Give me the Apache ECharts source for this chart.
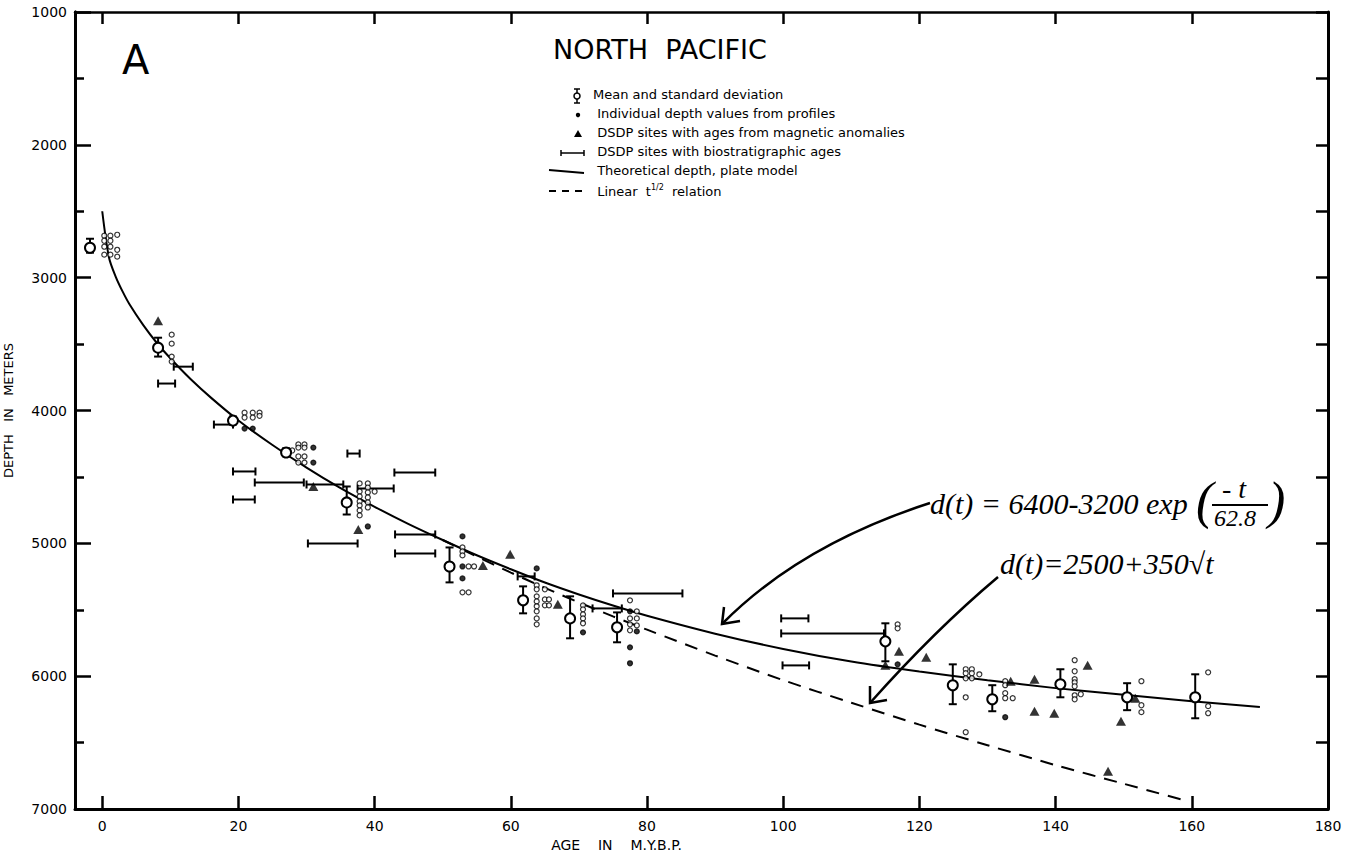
<!DOCTYPE html>
<html>
<head>
<meta charset="utf-8">
<script src="https://cdn.jsdelivr.net/npm/echarts@6/dist/echarts.min.js"></script>
<style>
html,body{margin:0;padding:0;background:#fff;}
#chart{width:1345px;height:859px;}
</style>
</head>
<body>
<div id="chart"></div>
<script>
// ---------------- DATA ----------------
const ageTicks = [0, 20, 40, 60, 80, 100, 120, 140, 160, 180];
const ageInnerTicks = [0, 20, 40, 60, 80, 100, 120, 140, 160];
const depthMajorTicks = [1000, 2000, 3000, 4000, 5000, 6000, 7000];
const depthMinorTicks = [1500, 2500, 3500, 4500, 5500, 6500];

// Mean and standard deviation
const meanAge   = [-1.8, 8.2, 19.2, 27.0, 35.9, 51.0, 61.8, 68.7, 75.6, 115.0, 124.9, 130.7, 140.7, 150.5, 160.5];
const meanDepth = [2775, 3527, 4076, 4316, 4692, 5174, 5429, 5565, 5632, 5738, 6068, 6174, 6061, 6159, 6159];
const meanLow   = [2707, 3452, 4045, 4285, 4572, 5031, 5324, 5399, 5520, 5602, 5911, 6068, 5948, 6053, 5986];
const meanHigh  = [2812, 3594, 4105, 4345, 4783, 5294, 5527, 5715, 5745, 5888, 6211, 6264, 6159, 6256, 6317];

// Individual depth values from profiles (open)
const indivAge = [
  0.3, 0.3, 0.3, 0.3, 1.2, 1.2, 1.2, 1.2, 2.2, 2.2, 2.2,
  10.2, 10.2, 10.2, 10.2,
  20.9, 20.9, 22.1, 22.1, 23.1, 23.1,
  27.9, 28.8, 28.8, 28.8, 28.8, 29.7, 29.7, 29.7, 29.7,
  37.8, 37.8, 37.8, 37.8, 37.8, 37.8, 37.8, 39.0, 39.0, 39.0, 39.0, 39.0, 39.0, 40.0,
  52.9, 52.9, 52.9, 52.9, 53.8, 53.8, 54.6,
  63.8, 63.8, 63.8, 63.8, 63.8, 63.8, 63.8, 63.8, 65.0, 65.0, 65.0, 65.6, 65.6,
  70.6, 70.6, 70.6, 70.6, 70.6,
  77.5, 77.5, 77.5, 77.5, 78.5, 78.5, 78.5,
  116.8, 116.8,
  126.8, 126.8, 126.8, 126.8, 126.8, 127.7, 127.7, 127.7, 128.8,
  132.6, 132.6, 132.6, 132.6, 133.7,
  142.8, 142.8, 142.8, 142.8, 142.8, 142.8, 142.8, 143.7,
  152.6, 152.6, 152.6,
  162.4, 162.4, 162.4
];
const indivDepth = [
  2684, 2722, 2767, 2827, 2684, 2722, 2767, 2827, 2677, 2790, 2842,
  3429, 3497, 3594, 3632,
  4016, 4053, 4016, 4053, 4016, 4040,
  4301, 4256, 4279, 4346, 4392, 4256, 4279, 4346, 4392,
  4549, 4610, 4647, 4685, 4715, 4752, 4790, 4549, 4580, 4617, 4655, 4692, 4730, 4610,
  5031, 5061, 5091, 5369, 5174, 5369, 5174,
  5316, 5346, 5399, 5437, 5474, 5512, 5565, 5610, 5346, 5422, 5467, 5422, 5467,
  5467, 5497, 5535, 5565, 5602,
  5429, 5565, 5610, 5655, 5512, 5565, 5618,
  5610, 5640,
  5948, 5978, 6016, 6159, 6422, 5948, 5978, 6016, 5986,
  6038, 6068, 6128, 6166, 6166,
  5880, 5963, 6023, 6046, 6076, 6144, 6174, 6136,
  6038, 6219, 6271,
  5971, 6226, 6279
];
// Individual depth values drawn as solid dots
const dotAge   = [20.9, 22.1, 31.0, 31.0, 39.0, 52.9, 52.9, 52.9, 63.8, 70.6, 77.5, 77.5, 77.5, 78.5, 116.8, 132.6];
const dotDepth = [4136, 4136, 4279, 4392, 4873, 4948, 5174, 5264, 5189, 5670, 5512, 5783, 5903, 5663, 5911, 6309];

// DSDP sites with ages from magnetic anomalies
const magAge   = [8.2, 31.0, 37.6, 55.9, 59.9, 66.9, 115.0, 117.0, 121.0, 133.4, 136.9, 136.9, 139.8, 144.7, 147.7, 149.6, 151.7];
const magDepth = [3324, 4572, 4895, 5166, 5083, 5459, 5918, 5813, 5858, 6038, 6023, 6264, 6279, 5918, 6715, 6339, 6166];

// DSDP sites with biostratigraphic ages (age range, depth)
const bioAgeFrom = [10.5, 8.2, 16.4, 19.2, 22.4, 19.2, 30.0, 36.0, 37.5, 42.9, 30.2, 43.0, 43.0, 61.0, 72.0, 75.0, 99.7, 99.7, 99.9];
const bioAgeTo   = [13.3, 10.7, 19.2, 22.5, 29.6, 22.4, 35.4, 37.8, 42.8, 48.9, 37.5, 48.9, 48.9, 63.5, 76.3, 85.2, 103.7, 114.8, 103.8];
const bioDepth   = [3670, 3797, 4106, 4459, 4542, 4670, 4557, 4324, 4587, 4467, 5001, 4933, 5076, 5249, 5490, 5377, 5565, 5678, 5919];

// Theoretical depth, plate model
const plateAge   = [0, 1, 2, 3, 4, 6, 8, 10, 13, 16, 20, 25, 30, 35, 40, 45, 50, 55, 60, 65, 70, 75, 80, 90, 100, 110, 120, 130, 140, 150, 160, 170];
const plateDepth = [2500, 2850, 2995, 3105, 3200, 3355, 3490, 3607, 3765, 3905, 4075, 4260, 4430, 4585, 4725, 4855, 4975, 5090, 5195, 5295, 5385, 5468, 5545, 5680, 5795, 5890, 5965, 6030, 6090, 6140, 6188, 6232];

// Linear t^1/2 relation
const sqrtAge   = [50, 55, 60, 65, 70, 75, 80, 90, 100, 110, 120, 130, 140, 150, 159];
const sqrtDepth = [4975, 5100, 5220, 5335, 5445, 5550, 5650, 5845, 6030, 6200, 6365, 6520, 6670, 6810, 6935];

// ---------------- CHART ----------------
const FONT = 'DejaVu Sans';
const BLACK = '#000';
const zip = (a, b) => a.map((v, i) => [v, b[i]]);

const indivData = zip(indivAge, indivDepth).map(v => ({ value: v }))
  .concat(zip(dotAge, dotDepth).map(v => ({ value: v, itemStyle: { color: BLACK } })));

const chart = echarts.init(document.getElementById('chart'), null, { renderer: 'svg' });

function legendRow(y, icon, text, rich) {
  return [].concat(icon, [{
    type: 'text', left: 593, top: y - 8,
    style: { text: text, fontFamily: FONT, fontSize: 13, fill: BLACK, rich: rich }
  }]);
}
const LX = 577;
const rows = [96, 115, 134, 153, 172, 191];
const legendEls = [].concat(
  legendRow(rows[0], [
    { type: 'line', shape: { x1: LX, y1: rows[0] - 7, x2: LX, y2: rows[0] + 7 }, style: { stroke: BLACK, lineWidth: 1.5 } },
    { type: 'line', shape: { x1: LX - 3, y1: rows[0] - 7, x2: LX + 3, y2: rows[0] - 7 }, style: { stroke: BLACK, lineWidth: 1.5 } },
    { type: 'line', shape: { x1: LX - 3, y1: rows[0] + 7, x2: LX + 3, y2: rows[0] + 7 }, style: { stroke: BLACK, lineWidth: 1.5 } },
    { type: 'circle', shape: { cx: LX, cy: rows[0], r: 3 }, style: { fill: '#fff', stroke: BLACK, lineWidth: 1.5 } }
  ], 'Mean and standard deviation'),
  legendRow(rows[1], [
    { type: 'circle', shape: { cx: LX + 1, cy: rows[1], r: 2.2 }, style: { fill: BLACK } }
  ], ' Individual depth values from profiles'),
  legendRow(rows[2], [
    { type: 'polygon', shape: { points: [[LX + 1, rows[2] - 4], [LX - 3, rows[2] + 3], [LX + 5, rows[2] + 3]] }, style: { fill: BLACK } }
  ], ' DSDP sites with ages from magnetic anomalies'),
  legendRow(rows[3], [
    { type: 'line', shape: { x1: 561, y1: rows[3], x2: 584, y2: rows[3] }, style: { stroke: BLACK, lineWidth: 1.5 } },
    { type: 'line', shape: { x1: 561, y1: rows[3] - 3, x2: 561, y2: rows[3] + 3 }, style: { stroke: BLACK, lineWidth: 1.5 } },
    { type: 'line', shape: { x1: 584, y1: rows[3] - 3, x2: 584, y2: rows[3] + 3 }, style: { stroke: BLACK, lineWidth: 1.5 } }
  ], ' DSDP sites with biostratigraphic ages'),
  legendRow(rows[4], [
    { type: 'line', shape: { x1: 549, y1: rows[4] - 2, x2: 584, y2: rows[4] + 1 }, style: { stroke: BLACK, lineWidth: 2 } }
  ], ' Theoretical depth, plate model'),
  legendRow(rows[5], [
    { type: 'line', shape: { x1: 549, y1: rows[5], x2: 584, y2: rows[5] }, style: { stroke: BLACK, lineWidth: 2, lineDash: [7, 6] } }
  ], ' Linear  t{s|1/2}  relation', { s: { fontSize: 8, verticalAlign: 'top', padding: [0, 0, 8, 0], fontFamily: FONT } })
);

const serifIt = { fontFamily: 'Liberation Serif', fontStyle: 'italic', fill: BLACK };

const annotations = [
  { type: 'text', left: 122, top: 40, style: { text: 'A', fontFamily: FONT, fontSize: 40, fill: BLACK } },
  { type: 'text', left: 553, top: 36, style: { text: 'NORTH  PACIFIC', fontFamily: FONT, fontSize: 27, fill: BLACK } },
  // plate model formula
  { type: 'text', left: 930, top: 488, style: Object.assign({ text: 'd(t) = 6400-3200 exp', fontSize: 30 }, serifIt) },
  { type: 'text', left: 1196, top: 474, style: Object.assign({ text: '(', fontSize: 52 }, serifIt) },
  { type: 'text', left: 1222, top: 474, style: Object.assign({ text: '- t', fontSize: 28 }, serifIt) },
  { type: 'line', shape: { x1: 1212, y1: 505, x2: 1268, y2: 505 }, style: { stroke: BLACK, lineWidth: 2 } },
  { type: 'text', left: 1214, top: 506, style: Object.assign({ text: '62.8', fontSize: 24 }, serifIt) },
  { type: 'text', left: 1268, top: 474, style: Object.assign({ text: ')', fontSize: 52 }, serifIt) },
  // sqrt formula
  { type: 'text', left: 1000, top: 548, style: Object.assign({ text: 'd(t)=2500+350\u221At', fontSize: 30 }, serifIt) },
  // arrows
  { type: 'bezierCurve', shape: { x1: 930, y1: 503, cpx1: 800, cpy1: 545, x2: 722, y2: 624 }, style: { stroke: BLACK, lineWidth: 2.5, fill: null } },
  { type: 'polyline', shape: { points: [[724, 607], [722, 624], [740, 621]] }, style: { stroke: BLACK, lineWidth: 2.5, fill: null } },
  { type: 'bezierCurve', shape: { x1: 998, y1: 577, cpx1: 935, cpy1: 630, x2: 870, y2: 703 }, style: { stroke: BLACK, lineWidth: 2.5, fill: null } },
  { type: 'polyline', shape: { points: [[870, 686], [870, 703], [887, 700]] }, style: { stroke: BLACK, lineWidth: 2.5, fill: null } }
];

const yBase = { type: 'value', inverse: true, min: 1000, max: 7000, splitLine: { show: false } };

const option = {
  backgroundColor: '#fff',
  animation: false,
  grid: { left: 75, right: 17, top: 12, bottom: 50, containLabel: false, outerBoundsMode: 'none' },
  xAxis: [{
    type: 'value', min: -4, max: 180, position: 'bottom',
    axisLine: { show: true, onZero: false, lineStyle: { color: BLACK, width: 3 } },
    axisTick: { show: true, inside: true, length: 13, customValues: ageInnerTicks, lineStyle: { color: BLACK, width: 2.5 } },
    axisLabel: { show: true, customValues: ageTicks, color: BLACK, fontSize: 14, fontFamily: FONT, margin: 10 },
    splitLine: { show: false },
    name: 'AGE    IN    M.Y.B.P.', nameLocation: 'middle', nameGap: 28,
    nameTextStyle: { color: BLACK, fontSize: 14, fontFamily: FONT, padding: [0, 170, 0, 0] }
  }, {
    type: 'value', min: -4, max: 180, position: 'top',
    axisLine: { show: true, onZero: false, lineStyle: { color: BLACK, width: 2.5 } },
    axisTick: { show: true, inside: true, length: 12, customValues: ageInnerTicks, lineStyle: { color: BLACK, width: 2.5 } },
    axisLabel: { show: false },
    splitLine: { show: false }
  }],
  yAxis: [Object.assign({}, yBase, {
    position: 'left',
    axisLine: { show: true, onZero: false, lineStyle: { color: BLACK, width: 3 } },
    axisTick: { show: true, inside: true, length: 16, customValues: depthMajorTicks, lineStyle: { color: BLACK, width: 2.5 } },
    axisLabel: { color: BLACK, fontSize: 14, fontFamily: FONT, margin: 8, customValues: depthMajorTicks, formatter: v => String(v) },
    name: 'DEPTH   IN   METERS', nameLocation: 'middle', nameGap: 60,
    nameTextStyle: { color: BLACK, fontSize: 13, fontFamily: FONT }
  }), Object.assign({}, yBase, {
    position: 'left', offset: 0,
    axisLine: { show: true, onZero: false, lineStyle: { color: BLACK, width: 3 } },
    axisTick: { show: true, inside: true, length: 9, customValues: depthMinorTicks, lineStyle: { color: BLACK, width: 2.5 } },
    axisLabel: { show: false }
  }), Object.assign({}, yBase, {
    position: 'right', interval: 500,
    axisLine: { show: true, onZero: false, lineStyle: { color: BLACK, width: 3 } },
    axisTick: { show: true, inside: true, length: 12, lineStyle: { color: BLACK, width: 2.5 } },
    axisLabel: { show: false }
  })],
  series: [
    {
      name: 'Theoretical depth, plate model', type: 'line', xAxisIndex: 0, yAxisIndex: 0,
      data: zip(plateAge, plateDepth), smooth: 0.3, symbol: 'none',
      lineStyle: { color: BLACK, width: 2 }, z: 2
    },
    {
      name: 'Linear t1/2 relation', type: 'line', xAxisIndex: 0, yAxisIndex: 0,
      data: zip(sqrtAge, sqrtDepth), smooth: 0.3, symbol: 'none',
      lineStyle: { color: BLACK, width: 2, type: [13, 9] }, z: 2
    },
    {
      name: 'DSDP sites with biostratigraphic ages', type: 'custom', xAxisIndex: 0, yAxisIndex: 0,
      data: bioDepth.map((d, i) => [bioAgeFrom[i], bioAgeTo[i], d]),
      encode: { x: [0, 1], y: 2 },
      renderItem: function (params, api) {
        const a = api.coord([api.value(0), api.value(2)]);
        const b = api.coord([api.value(1), api.value(2)]);
        const st = { stroke: BLACK, lineWidth: 2 };
        return { type: 'group', children: [
          { type: 'line', shape: { x1: a[0], y1: a[1], x2: b[0], y2: b[1] }, style: st },
          { type: 'line', shape: { x1: a[0], y1: a[1] - 4, x2: a[0], y2: a[1] + 4 }, style: st },
          { type: 'line', shape: { x1: b[0], y1: b[1] - 4, x2: b[0], y2: b[1] + 4 }, style: st }
        ] };
      },
      z: 3
    },
    {
      name: 'Individual depth values from profiles', type: 'scatter', xAxisIndex: 0, yAxisIndex: 0,
      data: indivData, symbol: 'circle', symbolSize: 5,
      itemStyle: { color: '#fff', borderColor: BLACK, borderWidth: 1.2 }, z: 4
    },
    {
      name: 'DSDP sites with ages from magnetic anomalies', type: 'scatter', xAxisIndex: 0, yAxisIndex: 0,
      data: zip(magAge, magDepth), symbol: 'triangle', symbolSize: [10, 9],
      itemStyle: { color: BLACK }, z: 4
    },
    {
      name: 'Mean and standard deviation', type: 'custom', xAxisIndex: 0, yAxisIndex: 0,
      data: meanAge.map((a, i) => [a, meanDepth[i], meanLow[i], meanHigh[i]]),
      encode: { x: 0, y: [1, 2, 3] },
      renderItem: function (params, api) {
        const c = api.coord([api.value(0), api.value(1)]);
        const lo = api.coord([api.value(0), api.value(2)]);
        const hi = api.coord([api.value(0), api.value(3)]);
        const st = { stroke: BLACK, lineWidth: 2 };
        return { type: 'group', children: [
          { type: 'line', shape: { x1: c[0], y1: lo[1], x2: c[0], y2: hi[1] }, style: st },
          { type: 'line', shape: { x1: c[0] - 4, y1: lo[1], x2: c[0] + 4, y2: lo[1] }, style: st },
          { type: 'line', shape: { x1: c[0] - 4, y1: hi[1], x2: c[0] + 4, y2: hi[1] }, style: st },
          { type: 'circle', shape: { cx: c[0], cy: c[1], r: 5 }, style: { fill: '#fff', stroke: BLACK, lineWidth: 2 } }
        ] };
      },
      z: 5
    }
  ],
  graphic: { elements: legendEls.concat(annotations) }
};

chart.setOption(option);
</script>
</body>
</html>
